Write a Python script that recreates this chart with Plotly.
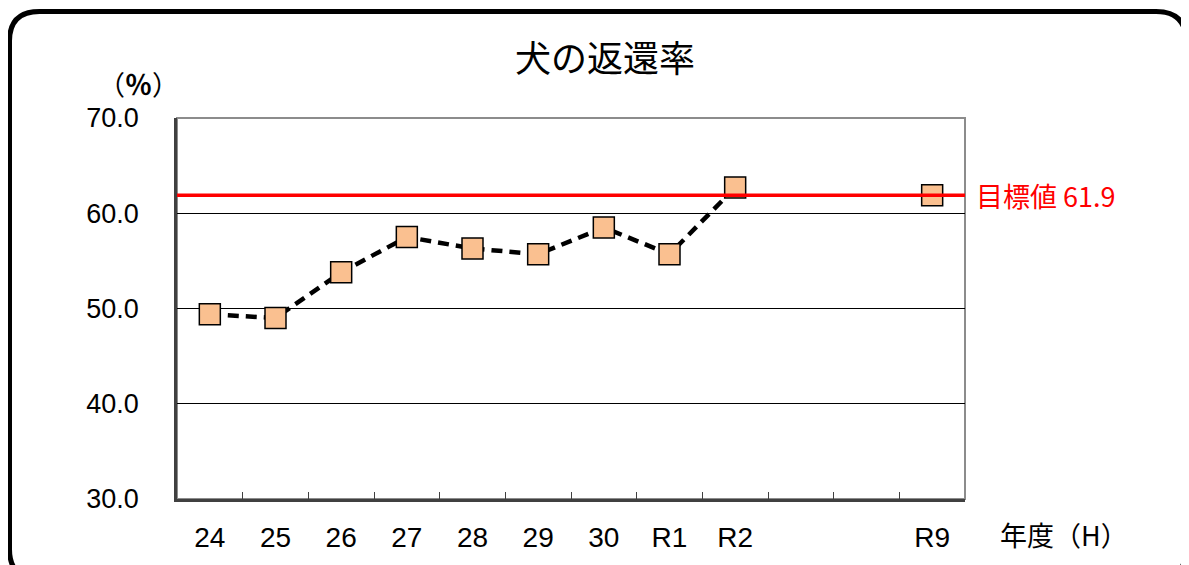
import plotly.graph_objects as go

categories = ["24", "25", "26", "27", "28", "29", "30", "R1", "R2", "R3", "R4", "R9"]
tick_labels = ["24", "25", "26", "27", "28", "29", "30", "R1", "R2", "", "", "R9"]
return_rate = [49.4, 49.0, 53.8, 57.5, 56.3, 55.7, 58.5, 55.7, 62.7, None, None, None]
target_point = [None, None, None, None, None, None, None, None, None, None, None, 61.9]
target_value = 61.9
title_text = "犬の返還率"

# page body margin (8px) compensation
OFF = 8
W, H = 1189 - OFF, 565 - OFF
L, R, T, B = 177, 965, 118, 504  # plot area in screenshot pixels

def px(x):
    return (x - L) / (R - L)

def py(y):
    return (B - y) / (B - T)

NUM_FONT = "Liberation Sans"
CJK_FONT = "Noto Sans CJK JP"

fig = go.Figure()

fig.add_trace(go.Scatter(
    x=categories, y=return_rate, mode="lines+markers",
    line=dict(color="black", width=4.5, dash="11px,7px"),
    marker=dict(symbol="square", size=21, color="#FAC090",
                line=dict(color="black", width=1.5)),
    showlegend=False, cliponaxis=False,
))
fig.add_trace(go.Scatter(
    x=categories, y=target_point, mode="markers",
    marker=dict(symbol="square", size=21, color="#FAC090",
                line=dict(color="black", width=1.5)),
    showlegend=False, cliponaxis=False,
))

# rounded outer frame
x0, x1 = px(9.5), px(1186)
y0, y1 = py(10), py(585)
rx, ry = 30 / (R - L), 30 / (B - T)
path = (f"M {x0+rx},{y0} L {x1-rx},{y0} Q {x1},{y0} {x1},{y0-ry} "
        f"L {x1},{y1+ry} Q {x1},{y1} {x1-rx},{y1} L {x0+rx},{y1} "
        f"Q {x0},{y1} {x0},{y1+ry} L {x0},{y0-ry} Q {x0},{y0} {x0+rx},{y0} Z")

shapes = [
    dict(type="path", path=path, xref="paper", yref="paper",
         line=dict(color="black", width=5), layer="below"),
    dict(type="rect", x0=0, x1=1, y0=0, y1=1, xref="paper", yref="paper",
         line=dict(color="#8c8c8c", width=2), layer="below"),
    dict(type="line", x0=0, x1=1, y0=target_value, y1=target_value,
         xref="paper", yref="y", line=dict(color="#ff0000", width=3.5), layer="above"),
]

annotations = [
    dict(text=title_text, x=px(605), y=py(55), xref="paper", yref="paper",
         xanchor="center", yanchor="middle", showarrow=False,
         font=dict(family=CJK_FONT, size=36, color="black")),
    dict(text="（<b>％</b>）", x=px(138), y=py(83), xref="paper", yref="paper",
         xanchor="center", yanchor="middle", showarrow=False,
         font=dict(family=CJK_FONT, size=27, color="black")),
    dict(text="年度（H）", x=px(998), y=py(540), xref="paper", yref="paper",
         xanchor="left", yanchor="middle", showarrow=False,
         font=dict(family=CJK_FONT, size=27, color="black")),
    dict(text=f"目標値 {target_value}", x=px(974), y=target_value, xref="paper", yref="y",
         xanchor="left", yanchor="middle", showarrow=False,
         font=dict(family=CJK_FONT, size=27, color="#ff0000")),
]

fig.update_layout(
    width=W, height=H,
    margin=dict(l=L - OFF, r=W - (R - OFF), t=T - OFF, b=H - (B - OFF), pad=0),
    paper_bgcolor="white", plot_bgcolor="white",
    shapes=shapes, annotations=annotations,
    xaxis=dict(
        type="category", categoryorder="array", categoryarray=categories,
        tickvals=categories, ticktext=tick_labels,
        range=[-0.5, len(categories) - 0.5],
        tickson="boundaries", ticks="inside", ticklen=7, tickcolor="#404040", tickwidth=1,
        showline=True, linecolor="#404040", linewidth=2.5,
        showgrid=False, zeroline=False,
        tickfont=dict(family=NUM_FONT, size=28, color="black"),
        ticklabelstandoff=12,
    ),
    yaxis=dict(
        range=[30, 70], dtick=10, tickformat=".1f",
        showline=True, linecolor="#404040", linewidth=2.5,
        showgrid=True, gridcolor="black", gridwidth=1,
        zeroline=False, ticks="",
        tickfont=dict(family=NUM_FONT, size=27, color="black"),
        ticklabelstandoff=30,
    ),
)

fig.write_html("out.html")
